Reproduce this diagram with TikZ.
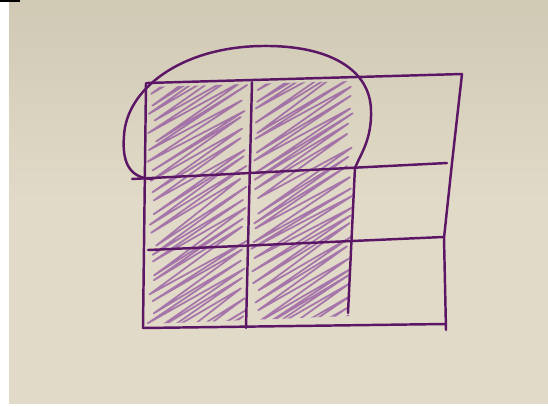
\documentclass[tikz,border=0pt]{standalone}
\usepackage{tikz}
\definecolor{paperlight}{RGB}{225,218,200}
\definecolor{paperdark}{RGB}{208,201,180}
\definecolor{inkpurple}{RGB}{92,22,102}
\definecolor{hatchpurple}{RGB}{135,65,155}

\begin{document}
\begin{tikzpicture} [x=0.02cm, y=-0.02cm,
	ink/.style = {draw=inkpurple, line width=1.4pt, line cap=round, line join=round},
	scribble/.style = {draw=hatchpurple, line width=1pt, line join=round, opacity=0.65}]
	% photo frame and paper
	\fill [white] (0,0) rectangle (548,406);
	\shade [top color=paperdark, bottom color=paperlight, middle color=paperlight] (9,0) rectangle (548,403);
	\fill [black] (0,0) rectangle (20,2);
	% hatched block (two left columns)
	\begin{scope}
		\clip (148,87) -- (354,81) -- (350,316) -- (146,324) -- cycle;
		\pgfmathsetseed{7}
		\draw [scribble] (150,20) \foreach \i in {-7,...,24} { -- ({244+4*rand}, {78+10*\i+3*rand}) -- ({152+5*rand}, {143+10*\i+3*rand}) };
		\pgfmathsetseed{11}
		\draw [scribble] (250,20) \foreach \i in {-7,...,24} { -- ({350+3*rand}, {76+10*\i+3*rand}) -- ({254+5*rand}, {141+10*\i+3*rand}) };
	\end{scope}
	% grid
	\draw [ink] (147,83) -- (462,74);
	\draw [ink] (462,74) -- (452,163) -- (444,238) -- (446,330);
	\draw [ink] (146,83) -- (143,328);
	\draw [ink] (143,328) -- (446,324);
	\draw [ink] (132,179) -- (447,163);
	\draw [ink] (148,250) -- (443,237);
	\draw [ink] (252,82) -- (246,328);
	\draw [ink] (355,167) -- (348,313);
	% loop round the top two cells
	\draw [ink] (152,179) .. controls (128,178) and (122,160) .. (124,136)
		.. controls (126,90) and (180,47) .. (262,46)
		.. controls (330,45) and (370,70) .. (371,110)
		.. controls (372,140) and (360,155) .. (355,168);
\end{tikzpicture}
\end{document}
